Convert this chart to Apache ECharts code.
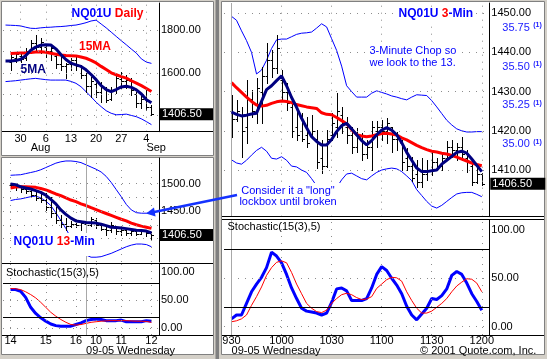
<!DOCTYPE html>
<html><head><meta charset="utf-8">
<script src="https://cdn.jsdelivr.net/npm/echarts@6/dist/echarts.min.js"></script>
<style>html,body{margin:0;padding:0;background:#d4d0c8}#c{width:547px;height:359px}</style>
</head><body><div id="c"></div>
<script>
// ---------------- DATA ----------------
// Daily NQ01U
const dailyDates = ['7/25','7/26','7/27','7/30','7/31','8/1','8/2','8/3','8/6','8/7','8/8','8/9','8/10','8/13','8/14','8/15','8/16','8/17','8/20','8/21','8/22','8/23','8/24','8/27','8/28','8/29','8/30','8/31','9/4','9/5'];
const dailyOpen  = [null,1650,1670,1680,1670,1700,1740,1720,1720,1700,1680,1640,1630,1640,1660,1630,1590,1540,1550,1510,1530,1480,1520,1570,1560,1560,1500,1460,1480,1440];
const dailyHigh  = [null,1690,1699,1699,1714,1753,1777,1761,1730,1722,1691,1675,1644,1668,1675,1636,1598,1582,1559,1559,1535,1535,1590,1605,1590,1574,1512,1496,1527,1450];
const dailyLow   = [null,1613,1652,1652,1660,1691,1707,1691,1675,1660,1621,1613,1574,1613,1613,1574,1512,1488,1488,1465,1465,1473,1504,1527,1527,1496,1442,1434,1426,1403];
const dailyClose = [null,1675,1690,1665,1700,1740,1720,1745,1700,1715,1640,1630,1640,1660,1630,1590,1540,1560,1510,1540,1475,1520,1575,1560,1565,1520,1460,1480,1440,1406.5];
const daily5MA   = [1655,1655,1657,1663,1680,1705,1720,1729,1731,1730,1712,1685,1662,1645,1637,1630,1614,1592,1568,1540,1522,1512,1522,1534,1537,1532,1520,1501,1474,1460];
const daily15MA  = [null,1690,1691,1692,1693,1695,1697,1698,1696,1691,1687,1683,1681,1680,1679,1674,1668,1658,1646,1630,1615,1600,1591,1582,1575,1563,1552,1540,1527,1513];
const dailyUpper = [1823,1822,1821,1819,1813,1808,1807,1810,1812,1813,1815,1816,1818,1821,1823,1828,1834,1842,1846,1828,1810,1790,1770,1750,1731,1711,1692,1665,1650,1644];
const dailyLower = [1559,1561,1563,1566,1569,1572,1574,1571,1568,1566,1566,1566,1566,1560,1551,1535,1512,1488,1463,1442,1423,1411,1404,1405,1407,1401,1395,1385,1372,1358];
const dailyTickDates = ['7/30','8/6','8/13','8/20','8/27','9/4'];
const dailyTickText  = ['30','6','13','20','27','4'];
const dailyMonthDates = ['8/1','9/4'];
const dailyMonthText  = ['Aug','Sep'];
const dailyYLabels = [1600, 1800];
const dailyYGrid = [1400, 1500, 1600, 1700, 1800];

// 13-minute NQ01U (slot 0 empty)
const m13Open  = [null,1497,1497,1493,1490,1487,1480,1474,1470,1458,1446,1434,1426,1422,1426,1424,1427,1425,1434,1424,1418,1416,1420,1414,1416,1410,1414,1409,1413,1410];
const m13High  = [null,1500.3,1500,1494,1491,1491,1488,1485,1482,1476,1458,1442,1437,1431,1428,1431,1428,1440,1437,1425,1424,1430,1421,1421,1419,1418,1415,1418,1416,1412];
const m13Low   = [null,1491,1488,1485,1482,1476,1470,1467,1452,1440,1428,1421,1415,1421,1421,1415,1420,1422,1419,1415,1406,1412,1409,1407,1406,1406,1406,1408,1404,1400];
const m13Close = [null,1497,1494,1490,1487,1480,1474,1470,1458,1446,1434,1426,1422,1427,1424,1428,1425,1436,1424,1418,1416,1424,1414,1416,1410,1414,1409,1414,1410,1406.5];
const m13MA5   = [null,1499,1498,1494,1492,1490,1487,1484,1479,1471,1463,1452,1444,1437,1432,1430.5,1429,1428.5,1428,1426,1423.5,1420.5,1420,1419,1418,1416.5,1415,1414.5,1413.5,1410];
const m13MA15  = [null,1492,1493.5,1494,1494,1493.5,1493,1491,1488.5,1485,1481,1478,1474,1470,1467,1463,1460,1456,1452.5,1449,1445.5,1442,1438.5,1435,1432,1428,1425,1422.5,1420.5,1418.5];
const m13Upper = [null,1515,1515.5,1516,1518,1520,1522,1525,1529,1533,1537,1539.5,1541,1541,1540,1538,1534,1530,1526,1521,1513,1502,1489,1476,1462,1452,1447,1446,1446,1447];
const m13Lower = [null,1469,1471,1472,1474,1476,1477,1474,1468,1460,1447,1433,1418,1401,1388,1378,1370,1366,1366,1367,1370,1373,1377,1381,1385,1388,1390,1390,1389,1385];
const stochLK  = [null,69,69,66,55,37,26,18,12,7,4,3,3,3,6,9,13,15,16,15,13,13,13,14,11,11,11,11,13,12];
const stochLD  = [null,71,70.5,69,65,60,54,46,37,28,21,15,10,6,5,6,8,10,11,12,12.5,13,13,13,13,12.5,12,12,11.5,10];
const m13TickSlots = [1, 8, 14, 18, 23, 29];
const m13TickText  = ['14','15','16','10','11','12'];
const m13DaySlot = 16;
const m13YLabels = [1450, 1500];
const m13YGrid = [1400, 1425, 1450, 1475, 1500];

// 3-minute NQ01U 09-05
const times3 = ['930','933','936','939','942','945','948','951','954','957',
  '1000','1003','1006','1009','1012','1015','1018','1021','1024','1027',
  '1030','1033','1036','1039','1042','1045','1048','1051','1054','1057',
  '1100','1103','1106','1109','1112','1115','1118','1121','1124','1127',
  '1130','1133','1136','1139','1142','1145','1148','1151','1154','1157','1200'];
const open3  = [1425,1423,1424,1421,1428,1425,1430,1434,1438,1436,
  1433,1430,1426,1421,1420,1419,1419,1418,1413,1411,
  1419,1421,1424,1421,1419,1416,1418,1414,1416,1420,
  1421,1420,1421,1418,1417,1413,1411,1409,1407,1409,
  1410,1412,1411,1413,1416,1415,1416,1413,1411,1407,1409];
const high3  = [1429.2,1427.9,1426.2,1433,1430.4,1433.4,1436.4,1442.3,1440.6,1444.5,
  1435.5,1432.1,1428.7,1426.2,1424.5,1423.6,1424.1,1420.2,1417.7,1420.2,
  1424.5,1429.6,1426.2,1423.6,1421.1,1420.7,1419.4,1417.7,1422.4,1422.4,
  1422.8,1423.2,1421.1,1419.8,1417.7,1415.6,1413.4,1412.6,1413,1412.6,
  1414.7,1413,1414.5,1417.3,1417.7,1416.8,1418.4,1415,1412,1410.5,1409.2];
const low3   = [1418.5,1422.4,1413.4,1416.8,1423.6,1421.9,1421.9,1432.1,1433.8,1434.7,
  1427.9,1425.3,1418.5,1417.7,1417.3,1416,1418.5,1410.5,1409.2,1410.9,
  1417.7,1418.5,1419.4,1416.8,1414.3,1414.5,1412.6,1413,1410,1416,
  1417.7,1416.8,1414.7,1415.1,1410,1410,1407.1,1405.8,1405.8,1407.5,
  1408.7,1410,1410,1412.6,1413.4,1412.6,1412.6,1409.5,1406.2,1406.6,1406.2];
const close3 = [1423,1425,1420,1428,1425,1431,1434,1438,1436,1441,
  1430,1427,1420,1419,1418,1417,1420,1412,1411,1418,
  1422,1425,1422,1419,1416,1419,1414,1416,1421,1421,
  1420,1422,1418,1419,1412,1411,1408,1407,1409,1410,
  1412,1411,1413,1416,1415,1416,1414,1412,1407,1409,1406.5];
const ma5_3  = [1424.8,1424.2,1423.8,1424.0,1424.3,1424.5,1427.5,1430.5,1431.5,1432.8,
  1434,1431.5,1428.5,1426,1423.2,1420.8,1418.5,1417.3,1416.4,1416.4,
  1417.8,1419.8,1421.3,1421.9,1420.5,1419,1417.5,1416.4,1417.5,1419,
  1420.2,1420.8,1420.2,1419,1417,1414.5,1412.5,1410.5,1409.6,1409.6,
  1409.8,1410,1411.5,1412.5,1413.5,1414.5,1414.8,1414.3,1412.8,1411.2,1409.6];
const ma15_3 = [1432.3,1431,1429.8,1428.6,1427.5,1426.6,1426.3,1426.5,1427,1427.4,
  1427.6,1427.5,1427.2,1426.7,1426.4,1426.1,1425.9,1425.7,1424.6,1424.2,
  1424.1,1423.4,1422.6,1421.8,1420.3,1419,1418.7,1418.5,1418.7,1419,
  1419.3,1419.4,1419.2,1418.9,1418.2,1417.7,1417,1416.3,1415.7,1415.2,
  1414.8,1414.6,1414.3,1414.1,1413.7,1413.3,1412.8,1412.3,1411.8,1411.4,1411.1];
const upper3 = [1449.2,1448.2,1445.5,1443,1440,1434.5,1435.5,1438,1441,1443.2,
  1443.4,1443.4,1444,1444.6,1444.9,1445,1445.2,1446.2,1447.3,1446.5,
  1443.5,1440.5,1436.5,1431.5,1430,1428.6,1428.6,1428.6,1429.6,1430.2,
  1429.8,1429.4,1428.9,1428.6,1428.2,1427.9,1428.6,1429.2,1429.1,1429,
  1427.7,1426.1,1424.4,1422.7,1421.5,1420.5,1420,1419.7,1419.7,1419.8,1419.8];
const lower3 = [1412.6,1411.8,1411.5,1412.5,1413.8,1415,1415.8,1414.8,1413,1412.8,
  1413.4,1412.5,1411,1410.8,1410,1409.4,1407.8,1406,1404.5,1403.8,
  1404,1405.5,1407.5,1409,1409.2,1408.5,1407.8,1407.5,1408.5,1409.4,
  1410,1410.3,1410.5,1410.3,1409.6,1408.5,1407.3,1405,1403.5,1402,
  1400.8,1400.3,1401,1402,1403,1403.9,1404.2,1404.3,1404.3,1403.8,1403.2];
const stochRK = [8,12,12,24,36,44,51,61,77,73,
  66,54,40,29,19,16,15,14,12,14,
  25,39,40,37,27,27,27,29,40,54,
  62,58,50,43,34,21,12,7,13,19,
  29,28,32,39,53,57,54,45,34,26,17];
const stochRD = [5,6,8,12,22,31,41,53,61,66.5,
  68,66,56,44,34,24,19,15.5,14.5,17,
  24,29,33,34.5,33,30,28,28.5,31,39.5,
  44,48.5,51,50.5,47,36,27,19,14,14,
  16,20,24,29,36,42,46,49.5,49,45,36];
const tick3 = ['930','1000','1030','1100','1130','1200'];
const y3Labels = [1410, 1420, 1430, 1440, 1450];
const y3Grid = [1410, 1420, 1430, 1440, 1450];
const y3AltLabels = [35.00, 35.25, 35.50, 35.75];
const stochLabels = [0, 50, 100];
const stochGrid = [0, 50];
const stochBands = [20, 80];
const lastPrice = 1406.5;

// ---------------- HELPERS ----------------
const FONT = '"Liberation Sans", Arial, Helvetica, sans-serif';
const dailyAxis = dailyDates.concat(['']);
const slots13 = []; for (let i = 0; i < 31; i++) slots13.push(String(i));
const axis3 = [''].concat(times3, ['']);
const OFF3 = 1;

function pts(arr, off) {
  const out = [];
  arr.forEach((v, i) => { if (v != null) out.push([i + off, v]); });
  return out;
}
function bars(o, h, l, c, off) {
  const out = [];
  o.forEach((v, i) => { if (v != null) out.push([i + off, o[i], h[i], l[i], c[i]]); });
  return out;
}
function ohlcRender(params, api) {
  const x = api.value(0);
  const po = api.coord([x, api.value(1)]);
  const ph = api.coord([x, api.value(2)]);
  const pl = api.coord([x, api.value(3)]);
  const pc = api.coord([x, api.value(4)]);
  const px = Math.round(ph[0]) + 0.5;
  const yo = Math.round(po[1]) + 0.5, yc = Math.round(pc[1]) + 0.5;
  const st = { stroke: '#000', lineWidth: 1 };
  return { type: 'group', children: [
    { type: 'line', shape: { x1: px, y1: Math.round(ph[1]), x2: px, y2: Math.round(pl[1]) + 1 }, style: st },
    { type: 'line', shape: { x1: px - 2, y1: yo, x2: px, y2: yo }, style: st },
    { type: 'line', shape: { x1: px, y1: yc, x2: px + 2.5, y2: yc }, style: st }
  ]};
}
const dotted = { color: '#8c8c8c', type: [1, 6], width: 1 };
const sepStyle = { color: '#a8a8a8', type: 'solid', width: 1 };
function gridSeries(xi, yi, hVals, vIdx, sepIdx, blackVals) {
  const d = [];
  hVals.forEach(v => d.push({ yAxis: v, lineStyle: dotted }));
  vIdx.forEach(v => d.push({ xAxis: v, lineStyle: dotted }));
  sepIdx.forEach(v => d.push({ xAxis: v, lineStyle: sepStyle }));
  (blackVals || []).forEach(v => d.push({ yAxis: v, lineStyle: { color: '#000', type: 'solid', width: 1 } }));
  return { type: 'line', xAxisIndex: xi, yAxisIndex: yi, data: [], z: 1, silent: true,
    markLine: { silent: true, symbol: ['none', 'none'], animation: false, label: { show: false }, data: d } };
}
function lineS(xi, yi, data, color, width, z, extra) {
  return Object.assign({ type: 'line', xAxisIndex: xi, yAxisIndex: yi, data: data, showSymbol: false, symbol: 'none',
    lineStyle: { color: color, width: width }, itemStyle: { color: color }, z: z, silent: true, animation: false }, extra || {});
}
function ohlcS(xi, yi, data) {
  return { type: 'custom', xAxisIndex: xi, yAxisIndex: yi, data: data, renderItem: ohlcRender,
    encode: { x: 0, y: [1, 2, 3, 4] }, z: 3, silent: true, clip: true, animation: false };
}
// invisible host series carrying the last-price box at the right edge of a panel
function priceSeries(xi, yi, w) {
  return { type: 'line', xAxisIndex: xi, yAxisIndex: yi, data: [], z: 20, silent: true,
    markLine: { silent: true, symbol: ['none', 'none'], animation: false,
      lineStyle: { color: 'rgba(0,0,0,0)', width: 1, type: 'solid' },
      label: { show: true, position: 'end', distance: 1, formatter: lastPrice.toFixed(2),
        color: '#fff', backgroundColor: '#000', fontSize: 11, fontFamily: FONT,
        padding: [1, 2, 0, 2], width: w, lineHeight: 11, align: 'left' },
      data: [{ yAxis: lastPrice }] } };
}
const yLab = (vals, extra) => Object.assign({ customValues: vals, formatter: v => Number(v).toFixed(2),
  margin: 2, color: '#000', fontSize: 11, fontFamily: FONT }, extra || {});
function yAx(gi, min, max, labels, extra) {
  return Object.assign({ type: 'value', gridIndex: gi, position: 'right', min: min, max: max,
    axisLine: { show: true, lineStyle: { color: '#000', width: 1 } }, axisTick: { show: false },
    splitLine: { show: false }, axisLabel: yLab(labels) }, extra || {});
}
function xAx(gi, data, labelFn, textFn, margin, align) {
  return { type: 'category', gridIndex: gi, data: data, boundaryGap: true, position: 'bottom', offset: 0,
    axisLine: { show: false }, axisTick: { show: false }, splitLine: { show: false },
    axisLabel: labelFn ? { show: true, interval: labelFn, formatter: textFn, margin: margin,
      color: '#000', fontSize: 11, fontFamily: FONT, align: align || 'center' } : { show: false } };
}

// ---------------- OPTION ----------------
const m13Sep = [m13DaySlot];
const tick3Idx = tick3.map(t => axis3.indexOf(t));
const option = {
  animation: false,
  textStyle: { fontFamily: FONT },
  grid: [
    { left: 3, top: 3, width: 156, height: 128.7 },
    { left: 3, top: 158, width: 156, height: 104 },
    { left: 3, top: 263.5, width: 156, height: 71.5 },
    { left: 224, top: 3, width: 265.3, height: 213.7 },
    { left: 224, top: 219.5, width: 265.3, height: 115.5 }
  ],
  xAxis: [
    xAx(0, dailyAxis, (i, v) => dailyTickDates.includes(v), v => dailyTickText[dailyTickDates.indexOf(v)], 2),
    xAx(0, dailyAxis, (i, v) => dailyMonthDates.includes(v), v => dailyMonthText[dailyMonthDates.indexOf(v)], 10.5, 'left'),
    xAx(1, slots13, null),
    xAx(2, slots13, (i) => m13TickSlots.includes(i), (v, i) => m13TickText[m13TickSlots.indexOf(Number(v))], 0.5),
    xAx(2, slots13, (i) => i === m13DaySlot, () => '09-05 Wednesday', 10, 'left'),
    xAx(3, axis3, null),
    xAx(4, axis3, (i, v) => tick3.includes(v), v => v, 0),
    xAx(4, axis3, (i) => i === OFF3, () => '09-05 Wednesday', 10.5, 'left')
  ],
  yAxis: [
    yAx(0, 1325, 1926, dailyYLabels),
    yAx(1, 1357.3, 1546.4, m13YLabels),
    yAx(2, -12.9, 116, stochLabels),
    yAx(3, 1398.1, 1452.6, y3Labels),
    { type: 'value', gridIndex: 3, position: 'right', min: 34.532, max: 35.909,
      axisLine: { show: false }, axisTick: { show: false }, splitLine: { show: false },
      axisLabel: { customValues: y3AltLabels, margin: 13,
        formatter: v => '{a|' + Number(v).toFixed(2) + '} {b|(1)}',
        rich: { a: { color: '#1a1aff', fontSize: 11, fontFamily: FONT },
                b: { color: '#1a1aff', fontSize: 7, fontWeight: 'bold', fontFamily: FONT, padding: [0, 0, 5, 0] } } } },
    yAx(4, -8.7, 110.8, stochLabels)
  ],
  series: [
    // Daily
    gridSeries(0, 0, dailyYGrid, dailyTickDates.map(d => dailyAxis.indexOf(d)), []),
    lineS(0, 0, pts(dailyUpper, 0), '#0000ff', 1, 2),
    lineS(0, 0, pts(dailyLower, 0), '#0000ff', 1, 2),
    ohlcS(0, 0, bars(dailyOpen, dailyHigh, dailyLow, dailyClose, 0)),
    lineS(0, 0, pts(daily15MA, 0), '#ff0000', 3, 4),
    lineS(0, 0, pts(daily5MA, 0), '#000080', 3, 5),
    priceSeries(0, 0, 49),
    // 13-min
    gridSeries(2, 1, m13YGrid, m13TickSlots, m13Sep),
    lineS(2, 1, pts(m13Upper, 0), '#0000ff', 1, 2),
    lineS(2, 1, pts(m13Lower, 0), '#0000ff', 1, 2),
    ohlcS(2, 1, bars(m13Open, m13High, m13Low, m13Close, 0)),
    lineS(2, 1, pts(m13MA15, 0), '#ff0000', 3, 4),
    lineS(2, 1, pts(m13MA5, 0), '#000080', 3, 5),
    priceSeries(2, 1, 49),
    // Stoch left
    gridSeries(3, 2, stochGrid, m13TickSlots, m13Sep, stochBands),
    lineS(3, 2, pts(stochLK, 0), '#0000ff', 3, 3),
    lineS(3, 2, pts(stochLD, 0), '#ff0000', 1, 4),
    // 3-min
    gridSeries(5, 3, y3Grid, tick3Idx.slice(1), [OFF3]),
    lineS(5, 3, pts(upper3, OFF3), '#0000ff', 1, 2),
    lineS(5, 3, pts(lower3, OFF3), '#0000ff', 1, 2),
    ohlcS(5, 3, bars(open3, high3, low3, close3, OFF3)),
    lineS(5, 3, pts(ma15_3, OFF3), '#ff0000', 3, 4),
    lineS(5, 3, pts(ma5_3, OFF3), '#000080', 3, 5),
    priceSeries(5, 3, 51),
    // Stoch right
    gridSeries(6, 5, stochGrid, tick3Idx.slice(1), [OFF3], stochBands),
    lineS(6, 5, pts(stochRK, OFF3), '#0000ff', 3, 3),
    lineS(6, 5, pts(stochRD, OFF3), '#ff0000', 1, 4)
  ],
  graphic: { elements: [
    { type: 'rect', shape: { x: 0, y: 0, width: 547, height: 359 }, style: { fill: '#d4d0c8' }, z: -100, silent: true },
    { type: 'rect', shape: { x: 1.5, y: 1.5, width: 212, height: 154 }, style: { fill: '#fff', stroke: '#808080', lineWidth: 1 }, z: -90, silent: true },
    { type: 'rect', shape: { x: 1.5, y: 157.5, width: 212, height: 197 }, style: { fill: '#fff', stroke: '#808080', lineWidth: 1 }, z: -90, silent: true },
    { type: 'rect', shape: { x: 221.5, y: 1.5, width: 323, height: 353 }, style: { fill: '#fff', stroke: '#808080', lineWidth: 1 }, z: -90, silent: true },
    { type: 'rect', shape: { x: 215.5, y: 0, width: 3.5, height: 359 }, style: { fill: '#808080' }, z: -80, silent: true },
    // panel rules
    { type: 'line', shape: { x1: 2, y1: 131.5, x2: 213, y2: 131.5 }, style: { stroke: '#000', lineWidth: 1 }, z: 10, silent: true },
    { type: 'line', shape: { x1: 2, y1: 263.5, x2: 213, y2: 263.5 }, style: { stroke: '#000', lineWidth: 1 }, z: 10, silent: true },
    { type: 'line', shape: { x1: 2, y1: 335.5, x2: 213, y2: 335.5 }, style: { stroke: '#000', lineWidth: 1 }, z: 10, silent: true },
    { type: 'line', shape: { x1: 222, y1: 216.5, x2: 544, y2: 216.5 }, style: { stroke: '#000', lineWidth: 1 }, z: 10, silent: true },
    { type: 'line', shape: { x1: 222, y1: 219.5, x2: 544, y2: 219.5 }, style: { stroke: '#000', lineWidth: 1 }, z: 10, silent: true },
    { type: 'line', shape: { x1: 222, y1: 335.5, x2: 544, y2: 335.5 }, style: { stroke: '#000', lineWidth: 1 }, z: 10, silent: true },
    // titles & notes
    { type: 'text', x: 71.5, y: 13.5, z: 50, silent: true, style: { text: '{a|NQ01U} {b|Daily}', align: 'left', verticalAlign: 'middle',
      rich: { a: { fill: '#0000ff', fontSize: 12, fontWeight: 'bold', fontFamily: FONT }, b: { fill: '#ff0000', fontSize: 12, fontWeight: 'bold', fontFamily: FONT } } } },
    { type: 'text', x: 79, y: 46.7, z: 50, silent: true, style: { text: '15MA', fill: '#ff0000', fontSize: 12, fontWeight: 'bold', fontFamily: FONT, align: 'left', verticalAlign: 'middle' } },
    { type: 'text', x: 20.5, y: 70, z: 50, silent: true, style: { text: '5MA', fill: '#000080', fontSize: 12, fontWeight: 'bold', fontFamily: FONT, align: 'left', verticalAlign: 'middle' } },
    { type: 'text', x: 11.5, y: 244.5, z: 50, silent: true, style: { text: '{a|NQ01U} {b|13}{a|-Min}', align: 'left', verticalAlign: 'middle',
      backgroundColor: '#fff', padding: [3, 6, 8, 2],
      rich: { a: { fill: '#0000ff', fontSize: 12, fontWeight: 'bold', fontFamily: FONT }, b: { fill: '#ff0000', fontSize: 12, fontWeight: 'bold', fontFamily: FONT } } } },
    { type: 'text', x: 396.5, y: 14, z: 50, silent: true, style: { text: '{a|NQ01U} {b|3}{a|-Min}', align: 'left', verticalAlign: 'middle',
      backgroundColor: '#fff', padding: [1, 2, 1, 2],
      rich: { a: { fill: '#0000ff', fontSize: 12, fontWeight: 'bold', fontFamily: FONT }, b: { fill: '#ff0000', fontSize: 12, fontWeight: 'bold', fontFamily: FONT } } } },
    { type: 'text', x: 367.5, y: 57, z: 50, silent: true, style: { text: '3-Minute Chop so\nwe look to the 13.', fill: '#0000ff', fontSize: 11, fontFamily: FONT,
      lineHeight: 11.7, align: 'left', verticalAlign: 'middle', backgroundColor: '#fff', padding: [1, 2, 1, 2] } },
    { type: 'text', x: 288.5, y: 196.5, z: 50, silent: true, style: { text: 'Consider it a "long"\nlockbox until broken', fill: '#0000ff', fontSize: 11, fontFamily: FONT,
      lineHeight: 11.6, align: 'center', verticalAlign: 'middle', backgroundColor: '#fff', padding: [2, 7, 2, 6] } },
    { type: 'text', x: 6, y: 272.5, z: 50, silent: true, style: { text: 'Stochastic(15(3),5)', fill: '#000', fontSize: 11, fontFamily: FONT, align: 'left', verticalAlign: 'middle' } },
    { type: 'text', x: 227.5, y: 227, z: 50, silent: true, style: { text: 'Stochastic(15(3),5)', fill: '#000', fontSize: 11, fontFamily: FONT, align: 'left', verticalAlign: 'middle' } },
    { type: 'text', x: 420, y: 351, z: 50, silent: true, style: { text: '\u00a9 2001 Quote.com, Inc.', fill: '#000', fontSize: 11, fontFamily: FONT, align: 'left', verticalAlign: 'middle' } },
    // arrow
    { type: 'line', shape: { x1: 237, y1: 195, x2: 153, y2: 212.2 }, style: { stroke: '#1432ff', lineWidth: 2.5 }, z: 60, silent: true },
    { type: 'polygon', shape: { points: [[146, 213.6], [155.6, 216.6], [154, 207.4]] }, style: { fill: '#1432ff' }, z: 60, silent: true }
  ] }
};
const chart = echarts.init(document.getElementById('c'), null, { renderer: 'canvas' });
chart.setOption(option);
</script></body></html>
